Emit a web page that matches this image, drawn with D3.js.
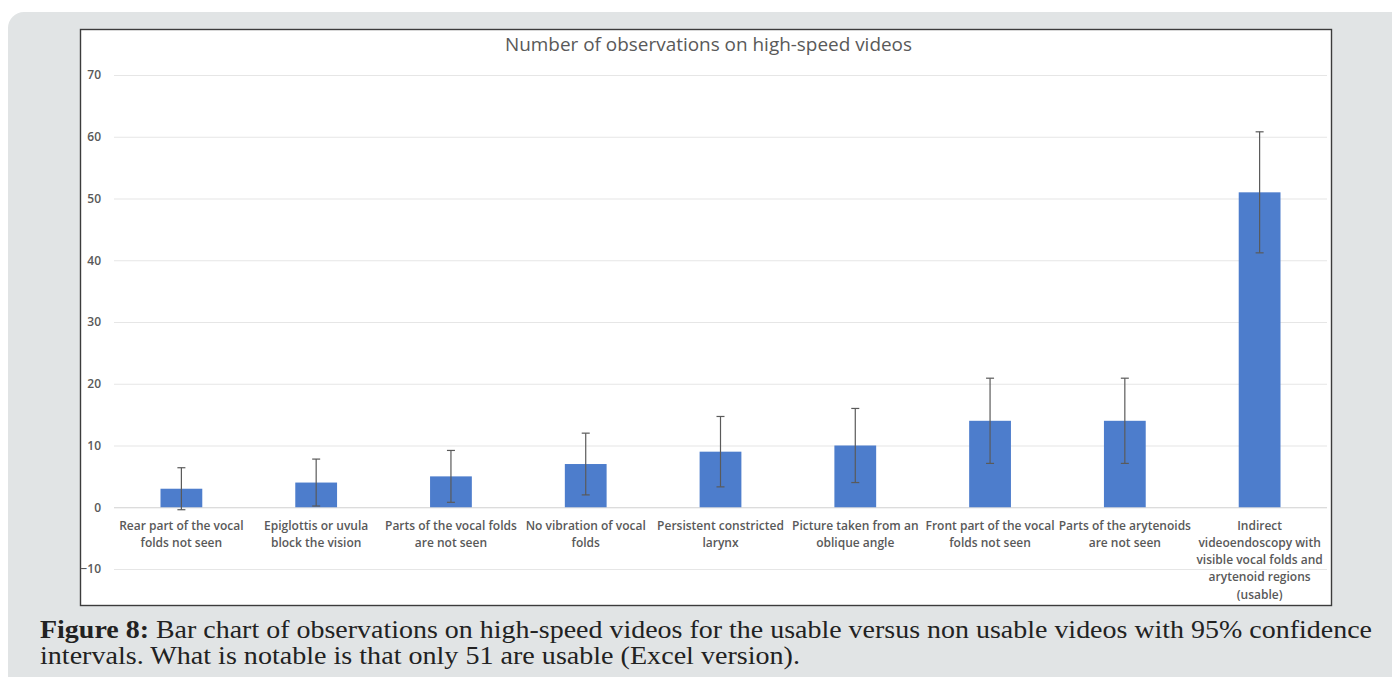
<!DOCTYPE html>
<html>
<head>
<meta charset="utf-8">
<script src="https://cdn.jsdelivr.net/npm/d3@7"></script>
<style>
  html, body { margin: 0; padding: 0; background: #ffffff; }
  svg { display: block; }
</style>
</head>
<body>
<svg id="chart" width="1392" height="677"></svg>
<script>
// ---- data ----
const categories = [
  "Rear part of the vocal\nfolds not seen",
  "Epiglottis or uvula\nblock the vision",
  "Parts of the vocal folds\nare not seen",
  "No vibration of vocal\nfolds",
  "Persistent constricted\nlarynx",
  "Picture taken from an\noblique angle",
  "Front part of the vocal\nfolds not seen",
  "Parts of the arytenoids\nare not seen",
  "Indirect\nvideoendoscopy with\nvisible vocal folds and\narytenoid regions\n(usable)"
];
const values   = [3, 4, 5, 7, 9, 10, 14, 14, 51];
const ciLow    = [-0.4, 0.2, 0.8, 2.0, 3.3, 4.0, 7.1, 7.1, 41.2];
const ciHigh   = [6.4, 7.8, 9.2, 12.0, 14.7, 16.0, 20.9, 20.9, 60.8];
const yTicks   = [-10, 0, 10, 20, 30, 40, 50, 60, 70];
const chartTitle = "Number of observations on high-speed videos";
const captionBold = "Figure 8:";
const captionLine1 = " Bar chart of observations on high-speed videos for the usable versus non usable videos with 95% confidence";
const captionLine2 = "intervals. What is notable is that only 51 are usable (Excel version).";

// ---- drawing ----
const svg = d3.select("#chart");
const grey = "#595959";

// page panel
svg.append("rect").attr("x", 8).attr("y", 12).attr("width", 1420).attr("height", 700)
  .attr("rx", 16).attr("fill", "#e1e4e5");

// chart box
svg.append("rect").attr("x", 80.5).attr("y", 29.5).attr("width", 1251).attr("height", 576)
  .attr("fill", "#ffffff").attr("stroke", "#3c3c3c").attr("stroke-width", 1.4);

const plotLeft = 114, plotRight = 1327;
const y = d3.scaleLinear().domain([-10, 70]).range([569, 75]);
const x = d3.scaleBand().domain(categories).range([plotLeft, plotRight])
  .paddingInner(0.69).paddingOuter(0.345);

// gridlines
const grid = svg.append("g").attr("transform", `translate(${plotLeft},0)`)
  .call(d3.axisLeft(y).tickValues(yTicks).tickSize(-(plotRight - plotLeft)).tickFormat(""));
grid.select(".domain").remove();
grid.selectAll(".tick line").attr("stroke", d => d === 0 ? "#d0d0d0" : "#e6e6e6").attr("stroke-width", 1.2);

// y labels
const yAx = svg.append("g").attr("transform", `translate(101,0)`)
  .call(d3.axisLeft(y).tickValues(yTicks).tickSize(0).tickPadding(0).tickFormat(d3.format("d")));
yAx.select(".domain").remove();
yAx.selectAll("text").attr("fill", grey).attr("font-family", "'Open Sans', sans-serif")
  .attr("font-size", 12).attr("font-weight", 600);

// bars
svg.append("g").selectAll("rect").data(categories).join("rect")
  .attr("x", d => x(d)).attr("width", x.bandwidth())
  .attr("y", (d, i) => y(Math.max(0, values[i])))
  .attr("height", (d, i) => Math.abs(y(values[i]) - y(0)))
  .attr("fill", "#4d7dcc");

// error bars
const eg = svg.append("g").attr("stroke", "#5a5a5a").attr("stroke-width", 1.2);
categories.forEach((c, i) => {
  const cx = x(c) + x.bandwidth() / 2;
  eg.append("line").attr("x1", cx).attr("x2", cx).attr("y1", y(ciLow[i])).attr("y2", y(ciHigh[i]));
  eg.append("line").attr("x1", cx - 4).attr("x2", cx + 4).attr("y1", y(ciLow[i])).attr("y2", y(ciLow[i]));
  eg.append("line").attr("x1", cx - 4).attr("x2", cx + 4).attr("y1", y(ciHigh[i])).attr("y2", y(ciHigh[i]));
});

// category labels
const lab = svg.append("g").attr("font-family", "'Open Sans', sans-serif").attr("font-size", 12)
  .attr("font-weight", 600).attr("fill", grey).attr("text-anchor", "middle");
categories.forEach(c => {
  const t = lab.append("text").attr("x", x(c) + x.bandwidth() / 2).attr("y", 529.5);
  c.split("\n").forEach((line, k) => {
    t.append("tspan").attr("x", x(c) + x.bandwidth() / 2).attr("dy", k === 0 ? 0 : 17.3).text(line);
  });
});

// title
svg.append("text").attr("x", 708.5).attr("y", 51).attr("text-anchor", "middle")
  .attr("font-family", "'Open Sans', sans-serif").attr("font-size", 18.5).attr("fill", grey)
  .attr("textLength", 407).attr("lengthAdjust", "spacingAndGlyphs")
  .text(chartTitle);

// caption
const cap = svg.append("text").attr("x", 40).attr("y", 638)
  .attr("font-family", "'Liberation Serif', 'Times New Roman', serif").attr("font-size", 25).attr("fill", "#222222")
  .attr("textLength", 1332).attr("lengthAdjust", "spacingAndGlyphs");
cap.append("tspan").attr("font-weight", "bold").text(captionBold);
cap.append("tspan").text(captionLine1);
svg.append("text").attr("x", 40).attr("y", 664)
  .attr("font-family", "'Liberation Serif', 'Times New Roman', serif").attr("font-size", 25).attr("fill", "#222222")
  .attr("textLength", 760).attr("lengthAdjust", "spacingAndGlyphs")
  .text(captionLine2);
</script>
</body>
</html>
